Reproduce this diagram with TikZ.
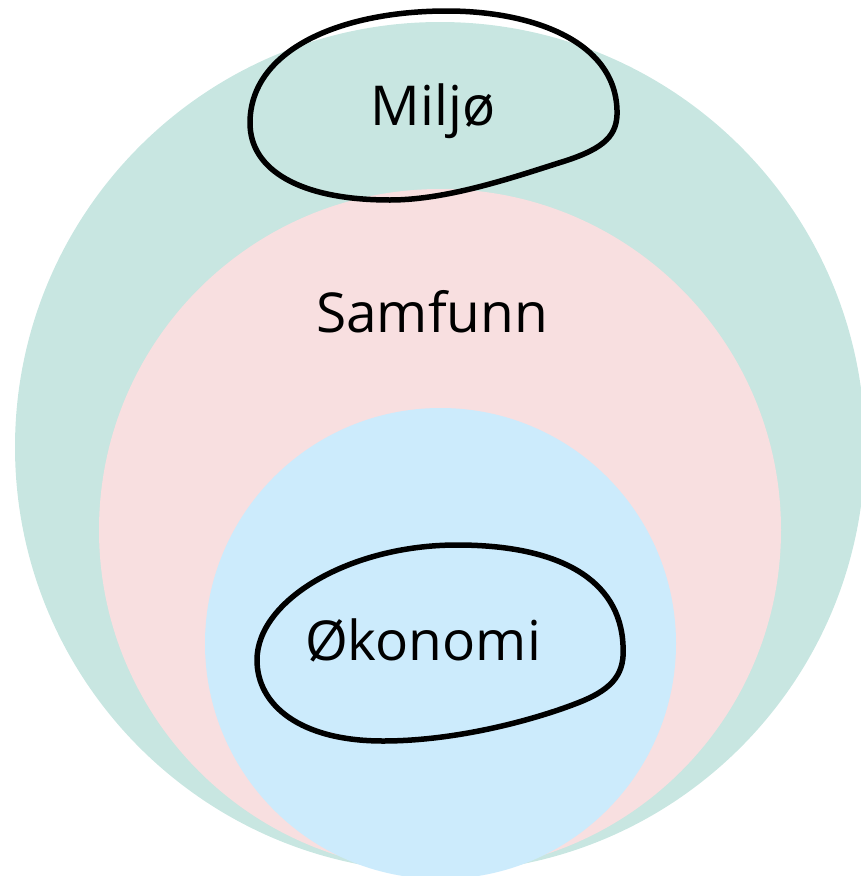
\documentclass[tikz,border=0pt]{standalone}
\usepackage{fontspec}
\setmainfont{Open Sans}
\definecolor{envgreen}{RGB}{200,230,225}
\definecolor{socpink}{RGB}{248,223,224}
\definecolor{ecoblue}{RGB}{204,235,252}
\begin{document}
\begin{tikzpicture}[x=1pt,y=-1pt,
  blob/.style={draw=black,line width=5.5pt,line join=round},
  label/.style={anchor=base,inner sep=0pt,font=\fontsize{55}{60}\selectfont}]
\useasboundingbox (0,0) rectangle (861,876);
\clip (0,0) rectangle (861,876);
\fill[envgreen] (440,447) circle[radius=425];
\fill[socpink] (440,530) circle[radius=341];
\fill[ecoblue] (440.5,643.5) circle[radius=235.5];
% Miljo blob
\draw[blob] (447,11) .. controls (340,11) and (250,50) .. (250,123)
  .. controls (250,170) and (300,200) .. (390,200)
  .. controls (450,200) and (520,175) .. (565,161)
  .. controls (605,148) and (618,135) .. (617,110)
  .. controls (615,40) and (530,11) .. cycle;
% Okonomi blob
\draw[blob] (457,545) .. controls (350,545) and (257,600) .. (257,660)
  .. controls (257,705) and (300,741) .. (383,741)
  .. controls (460,741) and (540,718) .. (580,702)
  .. controls (615,688) and (625,672) .. (623,645)
  .. controls (620,580) and (560,545) .. cycle;
\node[label] (miljo) at (433,125) {Miljø};
\node[label] (samfunn) at (432,332) {Samfunn};
\node[label] (okonomi) at (423,660) {Økonomi};
\end{tikzpicture}
\end{document}
